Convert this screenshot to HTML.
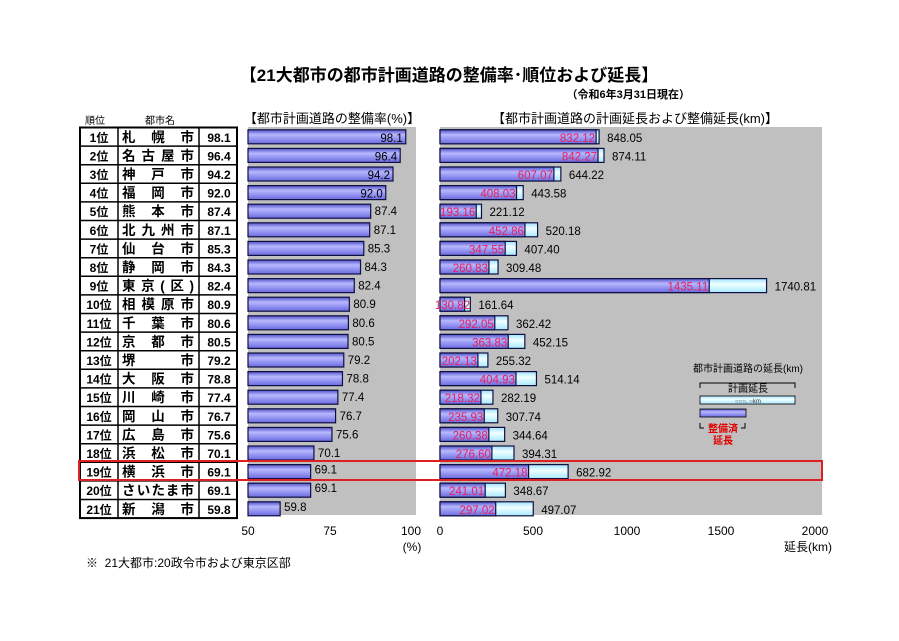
<!DOCTYPE html>
<html><head><meta charset="utf-8"><style>
body{margin:0;background:#fff;width:899px;height:636px;overflow:hidden}
text{font-family:"Liberation Sans","Noto Sans CJK JP",sans-serif}
</style></head><body>
<svg width="899" height="636" xmlns="http://www.w3.org/2000/svg">
<defs>
<linearGradient id="gb" x1="0" y1="0" x2="0" y2="1"><stop offset="0" stop-color="#5050c8"/><stop offset="0.35" stop-color="#b8b8ff"/><stop offset="1" stop-color="#6a6ae0"/></linearGradient>
<linearGradient id="gc" x1="0" y1="0" x2="0" y2="1"><stop offset="0" stop-color="#a0e0ff"/><stop offset="0.4" stop-color="#f0ffff"/><stop offset="1" stop-color="#a8e8ff"/></linearGradient>
</defs>
<text x="449" y="81" font-size="17" font-weight="bold" text-anchor="middle">【21大都市の都市計画道路の整備率･順位および延長】</text>
<text x="690" y="98" font-size="11" font-weight="bold" text-anchor="end">（令和6年3月31日現在）</text>
<text x="85" y="124" font-size="10">順位</text>
<text x="145" y="124" font-size="10">都市名</text>
<text x="332" y="123" font-size="13" text-anchor="middle">【都市計画道路の整備率(%)】</text>
<text x="635" y="123" font-size="13" text-anchor="middle">【都市計画道路の計画延長および整備延長(km)】</text>
<rect x="248" y="127" width="168" height="388" fill="#c0c0c0"/>
<rect x="440" y="127" width="382" height="388" fill="#c0c0c0"/>
<g id="rows"></g>
<g font-size="12" text-anchor="middle">
<text x="248" y="535">50</text><text x="330" y="535">75</text><text x="411" y="535">100</text><text x="412" y="551">(%)</text>
<text x="440" y="535">0</text><text x="533" y="535">500</text><text x="627" y="535">1000</text><text x="721" y="535">1500</text><text x="815" y="535">2000</text><text x="808" y="551">延長(km)</text>
</g>
<text x="86" y="567" font-size="12">※&#160; 21大都市:20政令市および東京区部</text>
<text x="748" y="372" font-size="10" text-anchor="middle">都市計画道路の延長(km)</text>
<path d="M700 388v-5h95v5" fill="none" stroke="#000"/>
<text x="748" y="392" font-size="10" text-anchor="middle">計画延長</text>
<rect x="700" y="396" width="95" height="8" fill="url(#gc)" stroke="#000" stroke-width="0.8"/>
<text x="748" y="403" font-size="6" text-anchor="middle" fill="#333">○○○. ○km</text>
<rect x="700" y="409" width="46" height="8" fill="url(#gb)" stroke="#000" stroke-width="0.8"/>
<path d="M700 423v5h4M745 423v5h-4" fill="none" stroke="#000"/>
<text x="723" y="432" font-size="10" fill="#e00000" text-anchor="middle" font-weight="bold">整備済</text>
<text x="723" y="444" font-size="10" fill="#e00000" text-anchor="middle" font-weight="bold">延長</text>
<g id="tbl"></g>
<rect x="79" y="461" width="743" height="19" fill="none" stroke="#e02020" stroke-width="2"/>
</svg>
<script>
(function(){
const d=[["1位","札　幌　市",98.1,832.12,848.05],["2位","名古屋市",96.4,842.27,874.11],["3位","神　戸　市",94.2,607.07,644.22],["4位","福　岡　市",92.0,408.03,443.58],["5位","熊　本　市",87.4,193.16,221.12],["6位","北九州市",87.1,452.86,520.18],["7位","仙　台　市",85.3,347.55,407.40],["8位","静　岡　市",84.3,260.83,309.48],["9位","東京(区)",82.4,1435.11,1740.81],["10位","相模原市",80.9,130.82,161.64],["11位","千　葉　市",80.6,292.05,362.42],["12位","京　都　市",80.5,363.83,452.15],["13位","堺　　　市",79.2,202.13,255.32],["14位","大　阪　市",78.8,404.93,514.14],["15位","川　崎　市",77.4,218.32,282.19],["16位","岡　山　市",76.7,235.93,307.74],["17位","広　島　市",75.6,260.38,344.64],["18位","浜　松　市",70.1,276.60,394.31],["19位","横　浜　市",69.1,472.18,682.92],["20位","さいたま市",69.1,241.01,348.67],["21位","新　潟　市",59.8,297.02,497.07]];
const NS="http://www.w3.org/2000/svg";
function el(p,t,a,txt){const e=document.createElementNS(NS,t);for(const k in a)e.setAttribute(k,a[k]);if(txt!=null)e.textContent=txt;p.appendChild(e);return e;}
const R=document.getElementById("rows"),T=document.getElementById("tbl");
const y0=127.5,h=18.6;
d.forEach((r,i)=>{
 const y=y0+i*h,cy=y+h/2;
 el(T,"line",{x1:80,x2:237,y1:y+h,y2:y+h,stroke:"#000","stroke-width":1.5});
 el(T,"text",{x:99,y:cy+5,"font-size":12,"font-weight":"bold","text-anchor":"middle"},r[0]);
 el(T,"text",{x:122,y:cy+5,"font-size":13.5,"font-weight":"bold",textLength:72,lengthAdjust:"spacing"},r[1]);
 el(T,"text",{x:219,y:cy+5,"font-size":12,"font-weight":"bold","text-anchor":"middle"},r[2].toFixed(1));
 const w=(r[2]-50)/50*164;
 el(R,"rect",{x:248,y:cy-7,width:w,height:14,fill:"url(#gb)",stroke:"#101040","stroke-width":1.2});
 if(r[2]>=90) el(R,"text",{x:248+w-3,y:cy+5,"font-size":11.5,"text-anchor":"end"},r[2].toFixed(1));
 else el(R,"text",{x:248+w+4,y:cy+4+(i>=18?-2:0),"font-size":11.5},r[2].toFixed(1));
 const k=0.1876,wp=r[4]*k,wd=r[3]*k;
 el(R,"rect",{x:440,y:cy-7,width:wp,height:14,fill:"url(#gc)",stroke:"#101040","stroke-width":1.2});
 el(R,"rect",{x:440,y:cy-7,width:wd,height:14,fill:"url(#gb)",stroke:"#101040","stroke-width":1.2});
 el(R,"text",{x:Math.max(440+wd-1,470),y:cy+5,"font-size":11.5,fill:"#e8205a","text-anchor":"end"},r[3].toFixed(2));
 el(R,"text",{x:440+wp+8,y:cy+5,"font-size":11.5},r[4].toFixed(2));
});
el(T,"rect",{x:80,y:y0,width:157,height:h*21,fill:"none",stroke:"#000","stroke-width":2});
el(T,"line",{x1:118,x2:118,y1:y0,y2:y0+h*21,stroke:"#000","stroke-width":1.5});
el(T,"line",{x1:199,x2:199,y1:y0,y2:y0+h*21,stroke:"#000","stroke-width":1.5});
})();
</script>
</body></html>
